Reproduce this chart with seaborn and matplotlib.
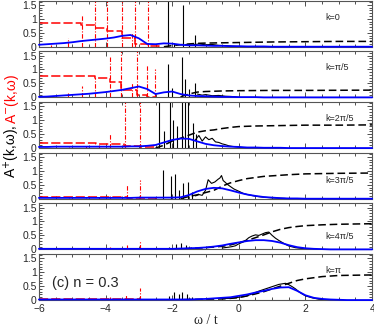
import numpy as np
import matplotlib
matplotlib.use('Agg')
import matplotlib.pyplot as plt
import seaborn as sns
from matplotlib.ticker import MultipleLocator, FormatStrFormatter

# k values of the six panels
k_labels = ['k=0', 'k=π/5', 'k=2π/5', 'k=3π/5', 'k=4π/5', 'k=π']

# common omega grid for the broadened (blue) spectra
w_grid = [-6, -5.75, -5.5, -5.25, -5, -4.75, -4.5, -4.25, -4, -3.75, -3.5, -3.25, -3,
          -2.75, -2.5, -2.25, -2, -1.75, -1.5, -1.25, -1, -0.75, -0.5, -0.25, 0,
          0.25, 0.5, 0.75, 1, 1.25, 1.5, 1.75, 2, 2.25, 2.5, 2.75, 3, 3.25, 3.5, 3.75, 4]

blue_k0 = [.07, .09, .11, .13, .16, .2, .23, .26, .29, .33, .39, .42, .3, .1, .09, .12, .11, .07,
           .05, .05, .04, .03, .03, .02, .02, .01, .01, .01, 0, 0, 0, 0, 0, 0, 0, 0, 0, 0, 0, 0, 0]
blue_k1 = [.02, .03, .05, .07, .09, .11, .13, .16, .19, .23, .27, .33, .39, .3, .12, .18, .21, .12,
           .07, .05, .04, .03, .02, .02, .01, .01, .01, 0, 0, 0, 0, 0, 0, 0, 0, 0, 0, 0, 0, 0, 0]
blue_k2 = [.04, .04, .05, .05, .05, .05, .05, .05, .05, .05, .05, .06, .06, .08, .11, .2, .29, .34,
           .33, .24, .15, .1, .07, .05, .04, .02, .02, .01, .01, .01, 0, 0, 0, 0, 0, 0, 0, 0, 0, 0, 0]
blue_k3 = [.03, .03, .03, .03, .03, .03, .03, .03, .03, .03, .03, .03, .04, .04, .04, .04, .04, .05,
           .13, .26, .35, .39, .37, .3, .22, .15, .1, .06, .04, .02, .01, .01, 0, 0, 0, 0, 0, 0, 0, 0, 0]
blue_k4 = [.02, .02, .02, .02, .02, .02, .02, .02, .02, .02, .02, .02, .02, .02, .02, .02, .02, .03,
           .04, .05, .07, .1, .14, .2, .25, .3, .33, .33, .3, .24, .15, .08, .04, .02, .01, 0, 0, 0, 0, 0, 0]
blue_k5 = [.02, .02, .02, .02, .02, .02, .02, .02, .02, .02, .02, .02, .02, .02, .02, .02, .02, .02,
           .02, .03, .04, .06, .08, .1, .15, .2, .27, .33, .4, .45, .46, .33, .17, .08, .04, .02, .01, 0, 0, 0, 0]

# integrated A+ (black dashed)
dash_k0_w = [-2.25, -2, -1.75, -1.5, -1.25, -1, -0.5, 0, 1, 2, 3, 4]
dash_k0_a = [0, .04, .07, .1, .12, .13, .14, .15, .17, .18, .19, .19]
dash_k1_w = [-1.75, -1.5, -1.25, -1, -0.5, 0, 1, 2, 4]
dash_k1_a = [.02, .12, .19, .21, .23, .24, .25, .25, .26]
dash_k2_w = [-2.5, -2.25, -2, -1.75, -1.5, -1.25, -1, -0.75, -0.5, -0.25, 0, 0.5, 1, 2, 3, 4]
dash_k2_a = [0, .1, .25, .35, .46, .57, .62, .65, .7, .74, .77, .79, .8, .82, .82, .83]
dash_k3_w = [-1.75, -1.5, -1.25, -1, -0.75, -0.5, -0.25, 0, 0.25, 0.5, 0.75, 1, 1.5, 2, 3, 4]
dash_k3_a = [0, .08, .14, .22, .3, .45, .57, .65, .72, .76, .8, .82, .86, .89, .91, .92]
dash_k4_w = [-2, -1.5, -1, -0.5, -0.25, 0, 0.25, 0.5, 0.75, 1, 1.25, 1.5, 1.75, 2, 2.5, 3, 4]
dash_k4_a = [0, .03, .06, .11, .16, .24, .32, .42, .52, .63, .72, .78, .82, .85, .88, .9, .92]
dash_k5_w = [-2, -1.5, -1, -0.5, -0.25, 0, 0.25, 0.5, 0.75, 1, 1.25, 1.5, 1.75, 2, 2.25, 2.5, 3, 4]
dash_k5_a = [0, .02, .03, .04, .06, .09, .15, .22, .3, .4, .5, .6, .7, .76, .8, .84, .88, .9]

# integrated A- (red dashed, steps)
rdash_k0_w = [-6, -4.75, -4.32, -3.95, -3.52, -3.12, -2.72, -2.4]
rdash_k0_a = [.85, .78, .66, .56, .32, .1, .02, 0]
rdash_k1_w = [-6, -4.32, -3.87, -3.55, -3.07, -2.77, -2.5]
rdash_k1_a = [.76, .68, .55, .28, .08, .02, 0]
rdash_k2_w = [-6, -4.3, -3.45, -2.95, -2.5]
rdash_k2_a = [.19, .14, .08, .02, 0]
rdash_k3_w = [-6, -3.35, -2.95, -2.5]
rdash_k3_a = [.05, .03, .01, 0]
rdash_k4_w = [-6, -3, -2.5]
rdash_k4_a = [.03, .01, 0]
rdash_k5_w = [-6, -3, -2.5]
rdash_k5_a = [.03, .01, 0]

# A- peaks (red dash-dot)
rpk_k0_w = [-5.65, -5.12, -4.72, -4.32, -3.95, -3.52, -3.2, -3.12, -2.72]
rpk_k0_a = [.05, .33, 1.13, 2, 2, 2, .5, 2, 2]
rpk_k1_w = [-5.65, -5.12, -4.72, -4.32, -3.87, -3.55, -3.2, -3.07, -2.77, -2.53]
rpk_k1_a = [.05, .15, .39, .73, 1.45, 2, .5, 2, 1.15, 1.0]
rpk_k2_w = [-5.1, -4.6, -4.2, -3.87, -3.43, -2.97]
rpk_k2_a = [.05, .06, .1, .53, 2, 2]
rpk_k3_w = [-5.1, -4.6, -4.2, -3.87, -3.35, -2.97]
rpk_k3_a = [.03, .04, .06, .1, .5, .68]
rpk_k4_w = [-4.6, -4.2, -3.87, -3.35, -2.97]
rpk_k4_a = [.03, .05, .1, .15, .3]
rpk_k5_w = [-4.6, -4.2, -3.87, -3.4, -2.97]
rpk_k5_a = [.03, .05, .12, .2, .44]

# A+ peaks (black)
bpk_k0_w = [-2.12, -1.95, -1.69, -1.5, -1.32]
bpk_k0_a = [2, .15, 1.5, .1, .42]
bpk_k1_w = [-2.12, -2.0, -1.72, -1.62, -1.5, -1.32]
bpk_k1_a = [1.2, .35, 1.45, .65, .3, .5]
bpk_k2_w = [-2.39, -2.25, -2.07, -1.97, -1.87, -1.72, -1.62, -1.52, -1.37, -1.3]
bpk_k2_a = [2, .6, 2, 1.0, .8, 2, 2, 2, .9, .5]
bpk_k3_w = [-2.29, -2.05, -1.92, -1.8, -1.67, -1.52, -1.4]
bpk_k3_a = [1.04, .8, .9, .3, .56, .6, .25]
bpk_k4_w = [-2.1, -1.9, -1.75, -1.6, -1.45]
bpk_k4_a = [.1, .2, .23, .15, .1]
bpk_k5_w = [-2.1, -1.95, -1.8, -1.7, -1.55, -1.4]
bpk_k5_a = [.15, .3, .2, .3, .2, .1]

# A+ continuum (black, noisy)
hump_k0_w = [-1.6, -1.4, -1.2, -1.0, -0.8, -0.6, -0.4, -0.2, 0]
hump_k0_a = [.08, .06, .1, .07, .08, .05, .04, .02, 0]
hump_k1_w = [-1.25, -1.1, -1.0, -0.8, -0.6, -0.4, -0.2, 0]
hump_k1_a = [.12, .08, .1, .06, .07, .04, .03, 0]
hump_k2_w = [-1.3, -1.2, -1.1, -1.0, -0.9, -0.8, -0.7, -0.6, -0.5, -0.4, -0.3, -0.2, 0, 0.3]
hump_k2_a = [.3, .45, .25, .4, .3, .35, .22, .2, .15, .12, .08, .06, .03, 0]
hump_k3_w = [-1.3, -1.2, -1.1, -1.0, -0.92, -0.82, -0.72, -0.62, -0.57, -0.52, -0.47, -0.42,
             -0.35, -0.27, -0.15, 0.03, 0.15, 0.33, 0.5, 0.7, 1.0, 1.4]
hump_k3_a = [.1, .15, .12, .3, .68, .55, .6, .7, .74, .83, .65, .6, .52, .45, .35, .25, .18, .13,
             .09, .06, .03, .01]
hump_k4_w = [-0.5, -0.3, -0.2, -0.1, 0, 0.1, 0.2, 0.3, 0.4, 0.5, 0.6, 0.7, 0.8, 0.9, 1.0, 1.1,
             1.2, 1.3, 1.4, 1.5, 1.7, 2.0, 2.2]
hump_k4_a = [.05, .08, .1, .13, .2, .25, .32, .42, .48, .52, .5, .55, .6, .62, .5, .4, .32, .25,
             .18, .12, .06, .02, 0]
hump_k5_w = [-0.5, -0.3, -0.1, 0, 0.2, 0.4, 0.6, 0.8, 1.0, 1.1, 1.2, 1.3, 1.4, 1.5, 1.6, 1.7,
             1.8, 1.9, 2.0, 2.2, 2.4, 2.6]
hump_k5_a = [.05, .06, .08, .1, .13, .22, .32, .4, .48, .52, .56, .58, .6, .55, .48, .4, .3, .22,
             .15, .08, .03, .01]

blue_all = [blue_k0, blue_k1, blue_k2, blue_k3, blue_k4, blue_k5]
dash_all = [(dash_k0_w, dash_k0_a), (dash_k1_w, dash_k1_a), (dash_k2_w, dash_k2_a),
            (dash_k3_w, dash_k3_a), (dash_k4_w, dash_k4_a), (dash_k5_w, dash_k5_a)]
rdash_all = [(rdash_k0_w, rdash_k0_a), (rdash_k1_w, rdash_k1_a), (rdash_k2_w, rdash_k2_a),
             (rdash_k3_w, rdash_k3_a), (rdash_k4_w, rdash_k4_a), (rdash_k5_w, rdash_k5_a)]
rpk_all = [(rpk_k0_w, rpk_k0_a), (rpk_k1_w, rpk_k1_a), (rpk_k2_w, rpk_k2_a),
           (rpk_k3_w, rpk_k3_a), (rpk_k4_w, rpk_k4_a), (rpk_k5_w, rpk_k5_a)]
bpk_all = [(bpk_k0_w, bpk_k0_a), (bpk_k1_w, bpk_k1_a), (bpk_k2_w, bpk_k2_a),
           (bpk_k3_w, bpk_k3_a), (bpk_k4_w, bpk_k4_a), (bpk_k5_w, bpk_k5_a)]
hump_all = [(hump_k0_w, hump_k0_a), (hump_k1_w, hump_k1_a), (hump_k2_w, hump_k2_a),
            (hump_k3_w, hump_k3_a), (hump_k4_w, hump_k4_a), (hump_k5_w, hump_k5_a)]

sns.set_style('ticks')
plt.rcParams['font.family'] = ['Liberation Sans', 'DejaVu Sans']

fig, axes = plt.subplots(6, 1, sharex=True, figsize=(3.74, 3.29), dpi=100)
fig.subplots_adjust(left=0.104, right=0.995, bottom=0.088, top=0.998, hspace=0.1)

# vertical position of the k label inside each panel
k_label_y = [1.06, 1.07, 1.06, 0.65, 0.47, 1.07]

for i, ax in enumerate(axes):
    # A- : red dashed integral + dash-dot peaks
    ax.plot(rdash_all[i][0], rdash_all[i][1], color='red', lw=1.1,
            drawstyle='steps-post', dashes=(6, 2))
    ax.vlines(rpk_all[i][0], 0, rpk_all[i][1], color='red', lw=0.8,
              linestyles=[(0, (4, 1.5, 1, 1.5))])
    # A+ : black peaks, continuum and dashed integral
    ax.vlines(bpk_all[i][0], 0, bpk_all[i][1], color='black', lw=0.8)
    sns.lineplot(x=hump_all[i][0], y=hump_all[i][1], ax=ax, color='black', lw=0.8,
                 estimator=None, sort=False)
    sns.lineplot(x=dash_all[i][0], y=dash_all[i][1], ax=ax, color='black', lw=1.1,
                 estimator=None).lines[-1].set_dashes((5, 2.5))
    # broadened spectrum
    sns.lineplot(x=w_grid, y=blue_all[i], ax=ax, color='#0000ff', lw=1.3,
                 estimator=None, clip_on=False, zorder=5)

    ax.set_xlim(-6, 4)
    ax.set_ylim(0, 1.65)
    ax.set_yticks([0, 0.5, 1, 1.5])
    ax.yaxis.set_major_formatter(FormatStrFormatter('%g'))
    ax.yaxis.set_minor_locator(MultipleLocator(0.1))
    ax.xaxis.set_major_locator(MultipleLocator(2))
    ax.xaxis.set_minor_locator(MultipleLocator(0.5))
    ax.tick_params(which='both', direction='in', top=True, right=True, width=0.6,
                   labelsize=7.5, pad=1.5, color='#333333')
    ax.tick_params(which='major', length=3.5)
    ax.tick_params(which='minor', length=2)
    for s in ax.spines.values():
        s.set_linewidth(0.8)
        s.set_color('#555555')
    ax.set_ylabel('')
    ax.text(2.6, k_label_y[i], k_labels[i], fontsize=6.5, va='center', ha='left')

axes[-1].tick_params(axis='x', which='major', pad=3)
axes[-1].text(-5.6, 0.6, '(c) n = 0.3', fontsize=10.5, va='center', ha='left')
axes[-1].set_xlabel('ω / t', family=['Liberation Serif', 'DejaVu Serif'], fontsize=10, labelpad=0)

# y label in two colours
fig.text(0.033, 1 - 178 / 329, 'A$^{+}$(k,ω), ', rotation=90, fontsize=10,
         ha='center', va='bottom', color='black')
fig.text(0.033, 1 - 124 / 329, 'A$^{-}$(k,ω)', rotation=90, fontsize=10,
         ha='center', va='bottom', color='red')

fig.savefig('out.png', dpi=100)
